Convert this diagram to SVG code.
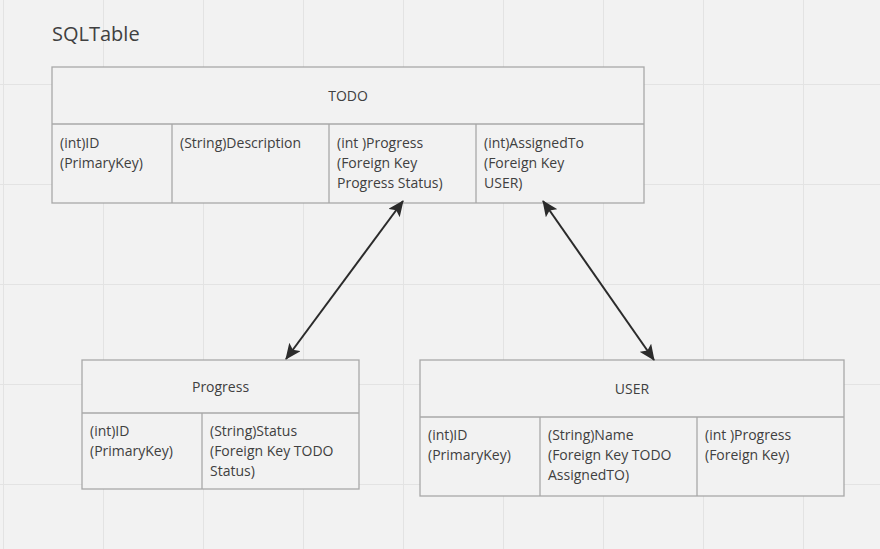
<svg xmlns="http://www.w3.org/2000/svg" width="880" height="549" viewBox="0 0 880 549">
<defs>
<pattern id="grid" x="3" y="84" width="100" height="100" patternUnits="userSpaceOnUse">
<path d="M0.5 0V100M0 0.5H100" fill="none" stroke="#e3e3e3" stroke-width="1"/>
</pattern>
<marker id="arr" viewBox="0 0 16 14" refX="15" refY="7" markerWidth="16" markerHeight="14" markerUnits="userSpaceOnUse" orient="auto-start-reverse">
<path d="M0 0L16 7L0 14L3.5 7Z" fill="#2b2b2b"/>
</marker>
<style>
.box{fill:#f2f2f2;stroke:#a8a8a8;stroke-width:1.3}
.ln{stroke:#a8a8a8;stroke-width:1.3}
text{font-family:"Open Sans","Noto Sans","Liberation Sans",sans-serif;font-size:14px;fill:#404040}
.h{text-anchor:middle}
.title{font-size:20px}
.conn{stroke:#2b2b2b;stroke-width:2;fill:none}
</style>
</defs>
<rect width="880" height="549" fill="#f2f2f2"/>
<rect width="880" height="549" fill="url(#grid)"/>
<text class="title" x="52" y="41">SQLTable</text>
<g id="todo">
<rect class="box" x="52" y="67" width="592" height="136"/>
<line class="ln" x1="52" y1="124" x2="644" y2="124"/>
<line class="ln" x1="172" y1="124" x2="172" y2="203"/>
<line class="ln" x1="329" y1="124" x2="329" y2="203"/>
<line class="ln" x1="476" y1="124" x2="476" y2="203"/>
<text class="h" x="348" y="101">TODO</text>
<text x="60" y="148">(int)ID</text>
<text x="60" y="168">(PrimaryKey)</text>
<text x="180" y="148">(String)Description</text>
<text x="337" y="148">(int )Progress</text>
<text x="337" y="168">(Foreign Key</text>
<text x="337" y="188">Progress Status)</text>
<text x="484" y="148">(int)AssignedTo</text>
<text x="484" y="168">(Foreign Key</text>
<text x="484" y="188">USER)</text>
</g>
<g id="progress">
<rect class="box" x="82" y="360" width="277" height="129"/>
<line class="ln" x1="82" y1="413" x2="359" y2="413"/>
<line class="ln" x1="202" y1="413" x2="202" y2="489"/>
<text class="h" x="220.5" y="392">Progress</text>
<text x="90" y="436">(int)ID</text>
<text x="90" y="456">(PrimaryKey)</text>
<text x="210" y="436">(String)Status</text>
<text x="210" y="456">(Foreign Key TODO</text>
<text x="210" y="476">Status)</text>
</g>
<g id="user">
<rect class="box" x="420" y="360" width="424" height="136"/>
<line class="ln" x1="420" y1="417" x2="844" y2="417"/>
<line class="ln" x1="540" y1="417" x2="540" y2="496"/>
<line class="ln" x1="697" y1="417" x2="697" y2="496"/>
<text class="h" x="632" y="394">USER</text>
<text x="428" y="440">(int)ID</text>
<text x="428" y="460">(PrimaryKey)</text>
<text x="548" y="440">(String)Name</text>
<text x="548" y="460">(Foreign Key TODO</text>
<text x="548" y="480">AssignedTO)</text>
<text x="705" y="440">(int )Progress</text>
<text x="705" y="460">(Foreign Key)</text>
</g>
<g id="connectors">
<line class="conn" x1="403" y1="201" x2="286" y2="359" marker-start="url(#arr)" marker-end="url(#arr)"/>
<line class="conn" x1="543" y1="201" x2="654" y2="360" marker-start="url(#arr)" marker-end="url(#arr)"/>
</g>
</svg>
